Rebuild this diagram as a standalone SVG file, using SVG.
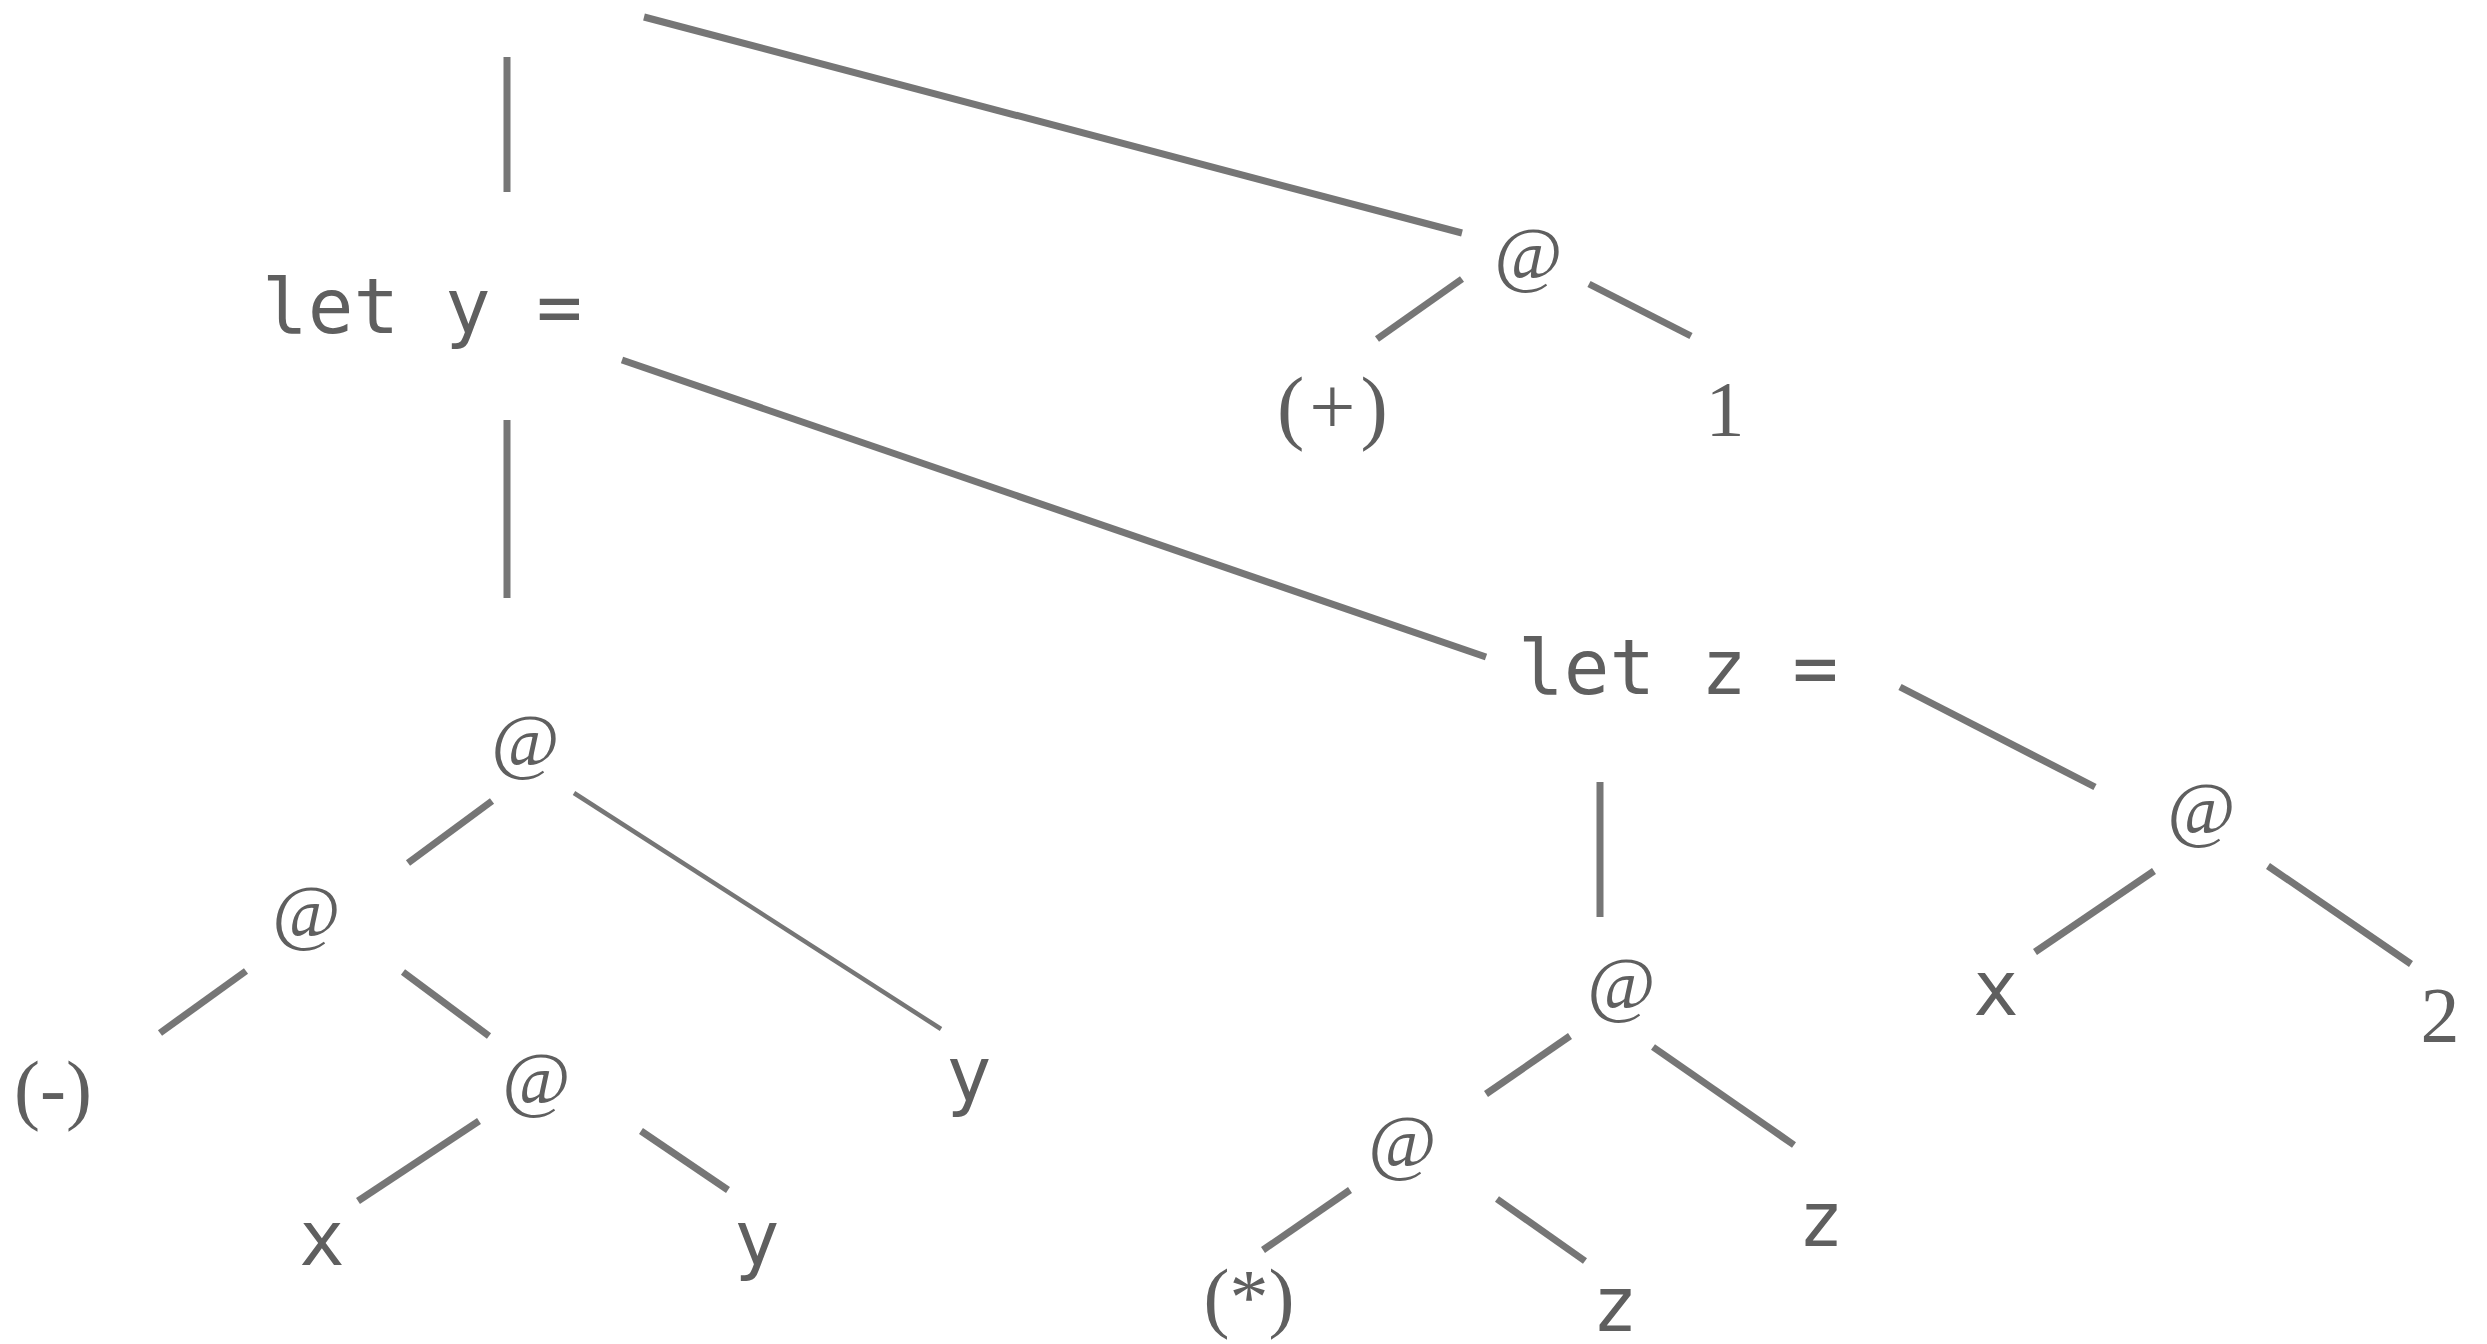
<svg xmlns="http://www.w3.org/2000/svg" width="2487" height="1344" viewBox="0 0 2487 1344">
<style>
.e{stroke:#767676;stroke-width:7;fill:none}
.thin{stroke-width:4.5}
.m{font-family:"DejaVu Sans Mono",monospace;font-size:76px;fill:#5f5f5f}
.s{font-family:"Liberation Serif",serif;font-size:78px;fill:#5f5f5f;text-anchor:middle}
.a{font-family:"Liberation Serif",serif;font-style:italic;font-size:74px;fill:#5f5f5f;text-anchor:middle}
.mc{text-anchor:middle}
</style>
<rect width="2487" height="1344" fill="#ffffff"/>
<g id="connectors">
<line class="e" x1="507" y1="57" x2="507" y2="192"/>
<line class="e" x1="644" y1="17" x2="1462" y2="233"/>
<line class="e" x1="507" y1="420" x2="507" y2="598"/>
<line class="e" x1="622" y1="360" x2="1486" y2="657"/>
<line class="e" x1="1462" y1="279" x2="1377" y2="339"/>
<line class="e" x1="1589" y1="284" x2="1691" y2="336"/>
<line class="e" x1="1900" y1="687" x2="2095" y2="787"/>
<line class="e" x1="1600" y1="782" x2="1600" y2="917"/>
<line class="e" x1="2154" y1="871" x2="2035" y2="952"/>
<line class="e" x1="2268" y1="866" x2="2411" y2="964"/>
<line class="e" x1="1570" y1="1036" x2="1486" y2="1094"/>
<line class="e" x1="1653" y1="1047" x2="1794" y2="1145"/>
<line class="e" x1="1350" y1="1190" x2="1263" y2="1250"/>
<line class="e" x1="1497" y1="1199" x2="1585" y2="1261"/>
<line class="e" x1="492" y1="801" x2="408" y2="863"/>
<line class="e thin" x1="574" y1="793" x2="941" y2="1029"/>
<line class="e" x1="246" y1="971" x2="160" y2="1033"/>
<line class="e" x1="403" y1="972" x2="489" y2="1036"/>
<line class="e" x1="479" y1="1121" x2="358" y2="1201"/>
<line class="e" x1="641" y1="1131" x2="728" y2="1190"/>
</g>
<g id="let-y"><text class="m" x="262" y="333">let y =</text></g>
<g id="app-top"><text class="a" x="1528" y="279">@</text></g>
<g id="plus"><text class="s" x="1335" y="434" style="font-size:82px;letter-spacing:5px">(+)</text></g>
<g id="one"><text class="s" x="1725" y="435">1</text></g>
<g id="let-z"><text class="m" x="1518" y="694">let z =</text></g>
<g id="app-x2"><text class="a" x="2201" y="834">@</text></g>
<g id="x-right"><text class="m mc" x="1996" y="1015">x</text></g>
<g id="two"><text class="s" x="2440" y="1041">2</text></g>
<g id="app-z1"><text class="a" x="1621" y="1009">@</text></g>
<g id="app-z2"><text class="a" x="1402" y="1167">@</text></g>
<g id="times"><text class="s" x="1249" y="1323">(*)</text></g>
<g id="z-lower"><text class="m mc" x="1615" y="1331">z</text></g>
<g id="z-right"><text class="m mc" x="1821" y="1246">z</text></g>
<g id="app-l1"><text class="a" x="525" y="766">@</text></g>
<g id="app-l2"><text class="a" x="306" y="937">@</text></g>
<g id="minus"><text class="s" x="53" y="1115">(-)</text></g>
<g id="app-l3"><text class="a" x="536" y="1104">@</text></g>
<g id="y-right"><text class="m mc" x="969" y="1101">y</text></g>
<g id="x-left"><text class="m mc" x="322" y="1265">x</text></g>
<g id="y-left"><text class="m mc" x="757" y="1265">y</text></g>
</svg>
